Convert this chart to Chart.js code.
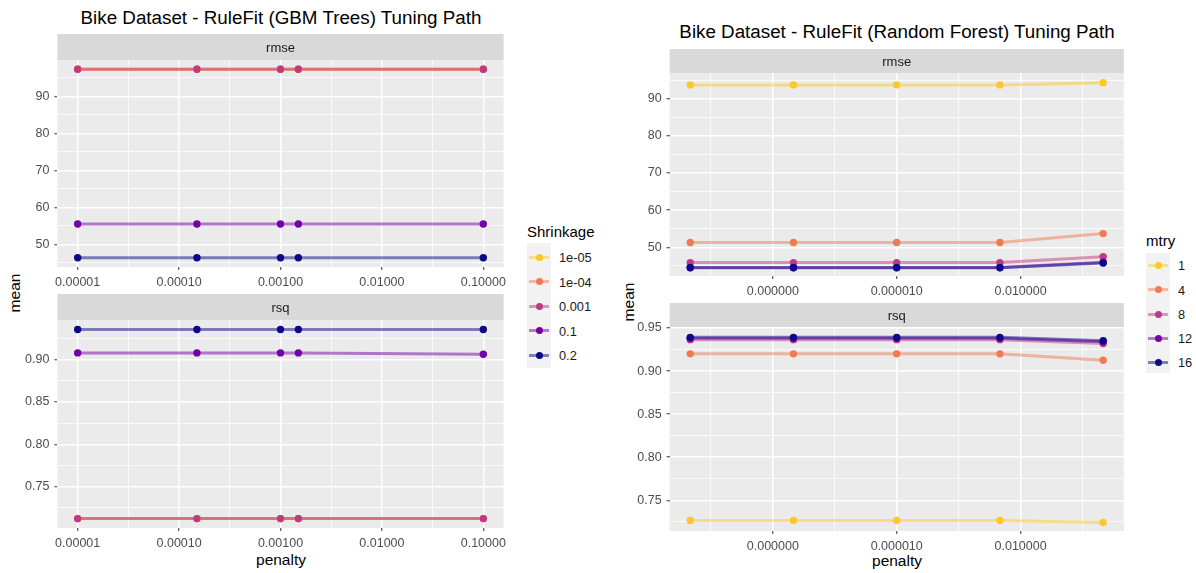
<!DOCTYPE html>
<html>
<head>
<meta charset="utf-8">
<script src="https://cdn.jsdelivr.net/npm/chart.js@4.4.0/dist/chart.umd.min.js"></script>
<style>
  body { margin: 0; width: 1196px; height: 573px; background: #fff; position: relative; overflow: hidden;
         font-family: "Liberation Sans", Arial, sans-serif; }
  canvas { position: absolute; }
  .txt { position: absolute; white-space: nowrap; transform: translate(-50%, -50%); color: #000; }
  .left { transform: translate(0, -50%); }
  .title { font-size: 18.8px; }
  .axt { font-size: 15.5px; }
  .legt { font-size: 15px; }
  .rot { transform: translate(-50%, -50%) rotate(-90deg); }
  .lab { font-size: 12.8px; color: #1A1A1A; }
  .keybox { position: absolute; background: #F2F2F2; }
  .kline { position: absolute; height: 3px; }
  .kdot { position: absolute; width: 7px; height: 7px; border-radius: 50%; }
</style>
</head>
<body>
<div id="legends"></div>
<div class="txt title" style="left:281px; top:18px;">Bike Dataset - RuleFit (GBM Trees) Tuning Path</div>
<div class="txt title" style="left:897px; top:32px;">Bike Dataset - RuleFit (Random Forest) Tuning Path</div>
<div class="txt axt rot" style="left:15px; top:293px;">mean</div>
<div class="txt axt rot" style="left:629px; top:302px;">mean</div>
<div class="txt axt" style="left:281px; top:560px;">penalty</div>
<div class="txt axt" style="left:897px; top:561px;">penalty</div>

<script>
// GBM trees tuning path (left)
const gbmPenalty = [0.00001, 0.00015, 0.001, 0.0015, 0.1];
const gbmShrinkage = ['1e-05', '1e-04', '0.001', '0.1', '0.2'];
const gbmRmse_1e05 = [97.3, 97.3, 97.3, 97.3, 97.3];
const gbmRmse_1e04 = [97.3, 97.3, 97.3, 97.3, 97.3];
const gbmRmse_0001 = [97.3, 97.3, 97.3, 97.3, 97.3];
const gbmRmse_01 = [55.5, 55.5, 55.5, 55.5, 55.5];
const gbmRmse_02 = [46.4, 46.4, 46.4, 46.4, 46.4];
const gbmRsq_1e05 = [0.7125, 0.7125, 0.7125, 0.7125, 0.7125];
const gbmRsq_1e04 = [0.7125, 0.7125, 0.7125, 0.7125, 0.7125];
const gbmRsq_0001 = [0.7125, 0.7125, 0.7125, 0.7125, 0.7125];
const gbmRsq_01 = [0.9079, 0.9079, 0.9079, 0.9079, 0.9063];
const gbmRsq_02 = [0.9355, 0.9355, 0.9355, 0.9355, 0.9355];

// Random forest tuning path (right)
const rfPenalty = [1e-10, 3.16e-8, 1e-5, 3.16e-3, 1];
const rfMtry = ['1', '4', '8', '12', '16'];
const rfRmse_1 = [93.7, 93.7, 93.7, 93.7, 94.3];
const rfRmse_4 = [51.3, 51.3, 51.3, 51.3, 53.7];
const rfRmse_8 = [45.9, 45.9, 45.9, 45.9, 47.5];
const rfRmse_12 = [44.6, 44.6, 44.6, 44.6, 46.0];
const rfRmse_16 = [44.5, 44.5, 44.5, 44.5, 45.8];
const rfRsq_1 = [0.7265, 0.7265, 0.7265, 0.7265, 0.7242];
const rfRsq_4 = [0.920, 0.920, 0.920, 0.920, 0.9126];
const rfRsq_8 = [0.9365, 0.9365, 0.9365, 0.9365, 0.932];
const rfRsq_12 = [0.938, 0.938, 0.938, 0.938, 0.934];
const rfRsq_16 = [0.9392, 0.9392, 0.9392, 0.9392, 0.9353];

// axis ticks and limits
const gbmXTicks = [1e-5, 1e-4, 1e-3, 1e-2, 1e-1];
const gbmXLabels = ['0.00001', '0.00010', '0.00100', '0.01000', '0.10000'];
const gbmXMinor = [-4.5, -3.5, -2.5, -1.5].map(e => Math.pow(10, e));
const rfXTicks = [1e-8, 1e-5, 1e-2];
const rfXLabels = ['0.000000', '0.000010', '0.010000'];
const rfXMinor = [-9.5, -6.5, -3.5, -0.5].map(e => Math.pow(10, e));
const rmseYTicks = [50, 60, 70, 80, 90];
const rmseYMinor = [45, 55, 65, 75, 85, 95];
const rsqYTicks = [0.75, 0.80, 0.85, 0.90, 0.95];
const rsqYMinor = [0.725, 0.775, 0.825, 0.875, 0.925];
const gbmRmseRange = [43.9, 99.8];
const gbmRsqRange = [0.7014, 0.9467];
const rfRmseRange = [42.3, 96.9];
const rfRsqRange = [0.7143, 0.9512];

const palette = ['#FCC928', '#EE7B51', '#C03A83', '#7401A8', '#0D0887'];

Chart.defaults.font.family = '"Liberation Sans", Arial, sans-serif';
Chart.defaults.animation = false;

function fade(hex, a) {
    let r = parseInt(hex.slice(1, 3), 16), g = parseInt(hex.slice(3, 5), 16), b = parseInt(hex.slice(5, 7), 16);
    return `rgba(${r},${g},${b},${a})`;
}

const panelPlugin = {
    id: 'panel',
    beforeDraw(chart, args, opts) {
        const {ctx, chartArea: a} = chart;
        ctx.save();
        ctx.fillStyle = '#EBEBEB';
        ctx.fillRect(a.left, a.top, a.right - a.left, a.bottom - a.top);
        ctx.fillStyle = '#D9D9D9';
        ctx.fillRect(a.left, a.top - opts.stripH, a.right - a.left, opts.stripH);
        ctx.fillStyle = '#1A1A1A';
        ctx.font = '13px "Liberation Sans", Arial, sans-serif';
        ctx.textAlign = 'center';
        ctx.textBaseline = 'middle';
        ctx.fillText(opts.label, (a.left + a.right) / 2, a.top - opts.stripH / 2 + 1);
        ctx.restore();
    }
};

function gridOpts() {
    return {
        color: '#FFFFFF',
        lineWidth: c => (c.tick && c.tick.big) ? 1.5 : 0.75,
        tickColor: c => (c.tick && c.tick.big) ? '#333333' : 'rgba(0,0,0,0)',
        tickLength: 3,
        tickWidth: 1
    };
}

function makePanel(p) {
    let cv = document.createElement('canvas');
    cv.width = p.cw; cv.height = p.ch;
    cv.style.left = p.cx + 'px'; cv.style.top = p.cy + 'px';
    document.body.appendChild(cv);

    let [yMin, yMax] = p.yRange;

    let lines = p.series.map((vals, i) => ({
        data: vals.map((v, j) => ({x: p.penalty[j], y: v})),
        showLine: true,
        borderColor: fade(palette[i], 0.5),
        borderWidth: 3,
        pointRadius: 0,
        order: 100 + (p.series.length - i)
    }));
    let points = p.series.map((vals, i) => ({
        data: vals.map((v, j) => ({x: p.penalty[j], y: v})),
        showLine: false,
        backgroundColor: palette[i],
        borderWidth: 0,
        pointRadius: 3.7,
        order: p.series.length - i
    }));

    new Chart(cv.getContext('2d'), {
        type: 'scatter',
        data: {datasets: lines.concat(points)},
        plugins: [panelPlugin],
        options: {
            responsive: false,
            events: [],
            layout: {padding: {left: 0, top: p.top - p.cy, right: p.cx + p.cw - p.right, bottom: 0}},
            plugins: {
                legend: {display: false},
                tooltip: {enabled: false},
                panel: {label: p.strip, stripH: p.stripH}
            },
            scales: {
                x: {
                    type: 'logarithmic',
                    min: p.xMin, max: p.xMax, bounds: 'data',
                    afterBuildTicks: s => {
                        let t = p.xTicks.map((v, i) => ({value: v, big: true, lab: p.xLabels[i]}));
                        t = t.concat(p.xMinor.map(v => ({value: v, big: false, lab: ''})));
                        s.ticks = t.sort((a, b) => a.value - b.value);
                    },
                    ticks: {
                        autoSkip: false, maxRotation: 0, color: '#4D4D4D', font: {size: 12.5}, padding: 5,
                        callback: (v, i, t) => t[i].lab
                    },
                    grid: gridOpts(),
                    border: {display: false},
                    afterFit: s => { s.height = p.ch - (p.bottom - p.cy); }
                },
                y: {
                    min: yMin, max: yMax, bounds: 'data',
                    afterBuildTicks: s => {
                        let t = p.yTicks.map(v => ({value: v, big: true}))
                            .concat(p.yMinor.map(v => ({value: v, big: false})));
                        s.ticks = t.filter(o => o.value >= yMin && o.value <= yMax)
                            .sort((a, b) => a.value - b.value);
                    },
                    ticks: {
                        autoSkip: false, color: '#4D4D4D', font: {size: 12.5}, padding: 5,
                        callback: (v, i, t) => t[i].big ? p.yFmt(v) : ''
                    },
                    grid: gridOpts(),
                    border: {display: false},
                    afterFit: s => { s.width = p.left - p.cx; }
                }
            }
        }
    });
}

const fmtInt = v => String(Math.round(v));
const fmt2 = v => v.toFixed(2);

// left: GBM trees
makePanel({
    cx: 0, cy: 30, cw: 520, ch: 262, left: 57.4, top: 60, right: 503.6, bottom: 267,
    strip: 'rmse', stripH: 26,
    penalty: gbmPenalty,
    series: [gbmRmse_1e05, gbmRmse_1e04, gbmRmse_0001, gbmRmse_01, gbmRmse_02],
    xMin: Math.pow(10, -5.2), xMax: Math.pow(10, -0.8),
    xTicks: gbmXTicks, xLabels: gbmXLabels, xMinor: gbmXMinor,
    yTicks: rmseYTicks, yMinor: rmseYMinor, yFmt: fmtInt, yRange: gbmRmseRange
});
makePanel({
    cx: 0, cy: 292, cw: 520, ch: 259, left: 57.4, top: 320, right: 503.6, bottom: 528,
    strip: 'rsq', stripH: 26,
    penalty: gbmPenalty,
    series: [gbmRsq_1e05, gbmRsq_1e04, gbmRsq_0001, gbmRsq_01, gbmRsq_02],
    xMin: Math.pow(10, -5.2), xMax: Math.pow(10, -0.8),
    xTicks: gbmXTicks, xLabels: gbmXLabels, xMinor: gbmXMinor,
    yTicks: rsqYTicks, yMinor: rsqYMinor, yFmt: fmt2, yRange: gbmRsqRange
});

// right: random forest
makePanel({
    cx: 600, cy: 46, cw: 540, ch: 254, left: 669.6, top: 73, right: 1123.8, bottom: 276,
    strip: 'rmse', stripH: 24,
    penalty: rfPenalty,
    series: [rfRmse_1, rfRmse_4, rfRmse_8, rfRmse_12, rfRmse_16],
    xMin: Math.pow(10, -10.5), xMax: Math.pow(10, 0.5),
    xTicks: rfXTicks, xLabels: rfXLabels, xMinor: rfXMinor,
    yTicks: rmseYTicks, yMinor: rmseYMinor, yFmt: fmtInt, yRange: rfRmseRange
});
makePanel({
    cx: 600, cy: 300, cw: 540, ch: 256, left: 669.6, top: 327, right: 1123.8, bottom: 531,
    strip: 'rsq', stripH: 24,
    penalty: rfPenalty,
    series: [rfRsq_1, rfRsq_4, rfRsq_8, rfRsq_12, rfRsq_16],
    xMin: Math.pow(10, -10.5), xMax: Math.pow(10, 0.5),
    xTicks: rfXTicks, xLabels: rfXLabels, xMinor: rfXMinor,
    yTicks: rsqYTicks, yMinor: rsqYMinor, yFmt: fmt2, yRange: rfRsqRange
});

// ggplot-style legends, built from the level names
function makeLegend(title, levels, x, titleY, boxTop, boxBottom, itemYs) {
    let host = document.getElementById('legends');
    let t = document.createElement('div');
    t.className = 'txt left legt';
    t.style.left = x + 'px'; t.style.top = titleY + 'px';
    t.textContent = title;
    host.appendChild(t);
    let box = document.createElement('div');
    box.className = 'keybox';
    box.style.cssText = `left:${x}px; top:${boxTop}px; width:24px; height:${boxBottom - boxTop}px;`;
    host.appendChild(box);
    levels.forEach((lev, i) => {
        let y = itemYs[i];
        let ln = document.createElement('div');
        ln.className = 'kline';
        ln.style.cssText = `left:${x + 2}px; top:${y - 1.5}px; width:20px; background:${fade(palette[i], 0.5)};`;
        host.appendChild(ln);
        let dot = document.createElement('div');
        dot.className = 'kdot';
        dot.style.cssText = `left:${x + 8.5}px; top:${y - 3.5}px; background:${palette[i]};`;
        host.appendChild(dot);
        let lb = document.createElement('div');
        lb.className = 'txt left lab';
        lb.style.cssText = `left:${x + 32}px; top:${y}px;`;
        lb.textContent = lev;
        host.appendChild(lb);
    });
}

makeLegend('Shrinkage', gbmShrinkage, 527, 231, 243, 368, [257, 281.5, 306, 330.5, 355]);
makeLegend('mtry', rfMtry, 1146, 240, 253, 373, [265, 289.5, 314, 338, 362]);
</script>
</body>
</html>
